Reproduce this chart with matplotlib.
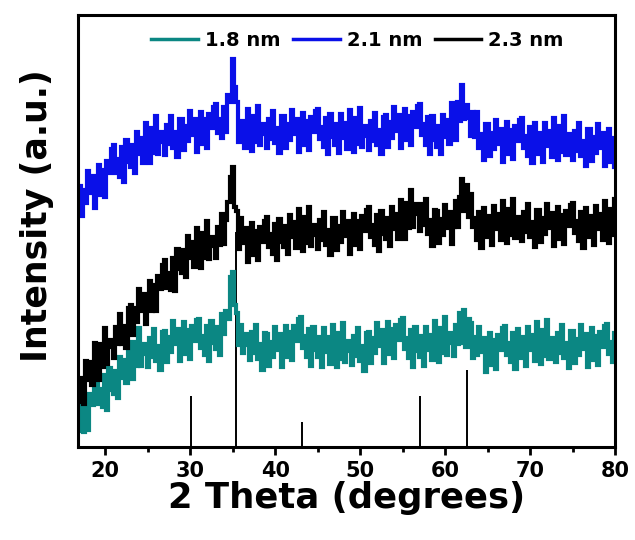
import matplotlib
matplotlib.use("Agg")
import matplotlib.pyplot as plt
import numpy as np
from matplotlib.ticker import MultipleLocator

# 2 theta grid (0.25 deg steps, 17 -> 80)
two_theta = np.arange(17.0, 80.001, 0.25)

# Intensities (a.u., stacked with offsets), 2 deg per row
i_18nm = [
    16, 43, 15, 42, 17, 53, 42, 66,
    71, 43, 58, 40, 72, 37, 79, 57,
    53, 76, 49, 90, 69, 87, 64, 105,
    89, 68, 105, 81, 119, 81, 103, 93,
    80, 109, 90, 118, 86, 101, 77, 115,
    116, 85, 110, 95, 126, 103, 118, 86,
    102, 125, 93, 117, 88, 121, 106, 127,
    128, 99, 111, 92, 121, 86, 126, 104,
    98, 120, 92, 133, 113, 136, 128, 170,
    175, 142, 134, 102, 122, 94, 113, 102,
    87, 115, 94, 122, 88, 103, 77, 114,
    113, 81, 105, 90, 120, 97, 113, 80,
    97, 121, 90, 115, 87, 121, 106, 128,
    130, 99, 111, 90, 118, 81, 120, 97,
    90, 110, 80, 119, 95, 110, 83, 122,
    103, 80, 114, 88, 124, 85, 106, 96,
    82, 111, 91, 119, 86, 101, 76, 114,
    115, 84, 109, 94, 124, 101, 117, 84,
    101, 125, 93, 118, 89, 122, 107, 127,
    129, 98, 109, 89, 117, 80, 120, 96,
    90, 111, 81, 120, 97, 112, 87, 126,
    107, 85, 119, 94, 130, 92, 114, 104,
    91, 122, 103, 134, 104, 137, 100, 128,
    124, 89, 110, 92, 120, 95, 109, 75,
    91, 114, 82, 107, 78, 112, 97, 119,
    121, 92, 104, 85, 114, 78, 118, 95,
    89, 110, 81, 120, 97, 112, 86, 125,
    106, 83, 117, 91, 127, 88, 109, 99,
    85, 114, 94, 122, 89, 104, 79, 116,
    116, 84, 108, 92, 122, 98, 113, 80,
    96, 119, 87, 111, 82, 115, 100, 121,
    123, 93, 105, 85, 114,
]

i_21nm = [
    261, 231, 257, 244, 276, 254, 271, 239,
    257, 282, 252, 277, 250, 286, 274, 298,
    302, 274, 288, 270, 300, 265, 307, 285,
    280, 302, 274, 315, 293, 309, 284, 324,
    306, 284, 319, 294, 331, 293, 315, 305,
    292, 322, 303, 331, 299, 315, 290, 328,
    328, 297, 321, 306, 336, 312, 328, 295,
    311, 335, 303, 328, 299, 333, 319, 340,
    343, 314, 328, 309, 340, 315, 352, 345,
    388, 360, 345, 305, 311, 326, 299, 338,
    319, 296, 331, 305, 341, 302, 323, 313,
    299, 328, 308, 336, 304, 319, 294, 331,
    331, 299, 323, 307, 337, 313, 328, 295,
    311, 334, 302, 326, 297, 330, 315, 336,
    338, 308, 320, 300, 329, 293, 333, 310,
    302, 323, 294, 333, 309, 324, 298, 337,
    318, 295, 329, 303, 339, 300, 321, 311,
    297, 326, 306, 334, 302, 317, 293, 330,
    332, 300, 325, 309, 340, 316, 332, 299,
    315, 338, 307, 331, 302, 335, 320, 341,
    343, 312, 323, 302, 330, 293, 331, 307,
    300, 321, 293, 332, 310, 327, 303, 344,
    326, 307, 345, 326, 362, 328, 342, 329,
    311, 335, 310, 335, 299, 313, 287, 323,
    323, 291, 314, 298, 327, 303, 318, 285,
    302, 325, 293, 317, 288, 321, 306, 327,
    329, 299, 311, 291, 320, 284, 324, 301,
    293, 314, 285, 324, 301, 316, 290, 329,
    310, 287, 321, 295, 331, 292, 313, 303,
    287, 316, 296, 324, 291, 306, 281, 318,
    318, 286, 310, 294, 323, 299, 314, 281,
    295, 318, 285, 309, 280,
]

i_23nm = [
    45, 69, 43, 86, 67, 85, 62, 104,
    88, 67, 103, 80, 119, 83, 107, 100,
    89, 120, 103, 133, 103, 121, 99, 139,
    142, 112, 139, 125, 158, 136, 153, 123,
    141, 166, 136, 162, 136, 171, 158, 182,
    187, 159, 174, 157, 189, 156, 198, 178,
    174, 197, 170, 211, 189, 205, 180, 219,
    201, 179, 214, 189, 226, 188, 210, 201,
    189, 220, 202, 233, 203, 227, 245, 270,
    280, 240, 236, 198, 229, 204, 219, 185,
    201, 224, 192, 216, 187, 220, 205, 226,
    230, 200, 213, 193, 223, 187, 228, 205,
    200, 221, 193, 232, 210, 225, 199, 238,
    219, 196, 230, 204, 240, 201, 222, 212,
    198, 227, 207, 235, 202, 217, 192, 229,
    229, 197, 221, 205, 235, 211, 226, 193,
    210, 233, 202, 226, 198, 231, 216, 237,
    240, 210, 222, 202, 232, 196, 236, 213,
    208, 229, 201, 240, 218, 233, 208, 247,
    230, 208, 244, 219, 257, 220, 243, 233,
    216, 243, 222, 248, 213, 227, 201, 237,
    236, 204, 228, 212, 242, 219, 235, 203,
    220, 246, 220, 250, 268, 236, 262, 230,
    253, 220, 229, 207, 235, 199, 239, 216,
    210, 231, 202, 241, 218, 233, 207, 246,
    227, 204, 238, 212, 248, 209, 230, 220,
    206, 235, 215, 243, 210, 225, 200, 237,
    237, 205, 229, 213, 243, 219, 234, 201,
    217, 240, 208, 232, 203, 236, 221, 242,
    244, 214, 226, 206, 235, 199, 239, 216,
    210, 231, 202, 241, 218, 233, 207, 246,
    227, 204, 238, 212, 248,
]

# reference pattern (stick lines)
ref_pos = [30.1, 35.4, 43.1, 57.0, 62.5]
ref_height = [51, 215, 25, 51, 77]

labels = ["1.8 nm", "2.1 nm", "2.3 nm"]
colors = ["#0b8783", "#0a10e8", "#000000"]

plt.rcParams['font.family'] = ['DejaVu Sans']
plt.rcParams['font.weight'] = 'bold'

fig = plt.figure(figsize=(6.35, 5.4), dpi=100)
ax = fig.add_axes([0.123, 0.172, 0.846, 0.8])

# sticks first so the patterns sit on top
ax.vlines(ref_pos, 0, ref_height, color='black', lw=1.4, zorder=1)

for y, lab, c in zip([i_18nm, i_21nm, i_23nm], labels, colors):
    ax.plot(two_theta, y, color=c, lw=3.0, label=lab, zorder=2,
            drawstyle='steps-mid', solid_joinstyle='miter')

ax.set_xlim(16.8, 80)
ax.set_ylim(0, 432)
ax.xaxis.set_major_locator(MultipleLocator(10))
ax.xaxis.set_minor_locator(MultipleLocator(5))
ax.tick_params(axis='x', which='major', direction='out', length=6, width=2,
               labelsize=15, pad=4)
ax.tick_params(axis='x', which='minor', direction='out', length=3.5, width=2)
ax.set_yticks([])
for s in ax.spines.values():
    s.set_linewidth(2.2)

ax.set_xlabel('2 Theta (degrees)', fontsize=25.5, fontweight='bold', labelpad=0)
ax.set_ylabel('Intensity (a.u.)', fontsize=25, fontweight='bold')
ax.yaxis.set_label_coords(-0.045, 0.535)

leg = ax.legend(loc='center', bbox_to_anchor=(0.52, 0.942), ncol=3,
                frameon=False, fontsize=14, handlelength=2.4, handletextpad=0.36,
                columnspacing=0.65, borderaxespad=0.0)
for h in leg.get_lines():
    h.set_linewidth(2.5)
    h.set_drawstyle('default')

fig.savefig('out.png', dpi=100)
